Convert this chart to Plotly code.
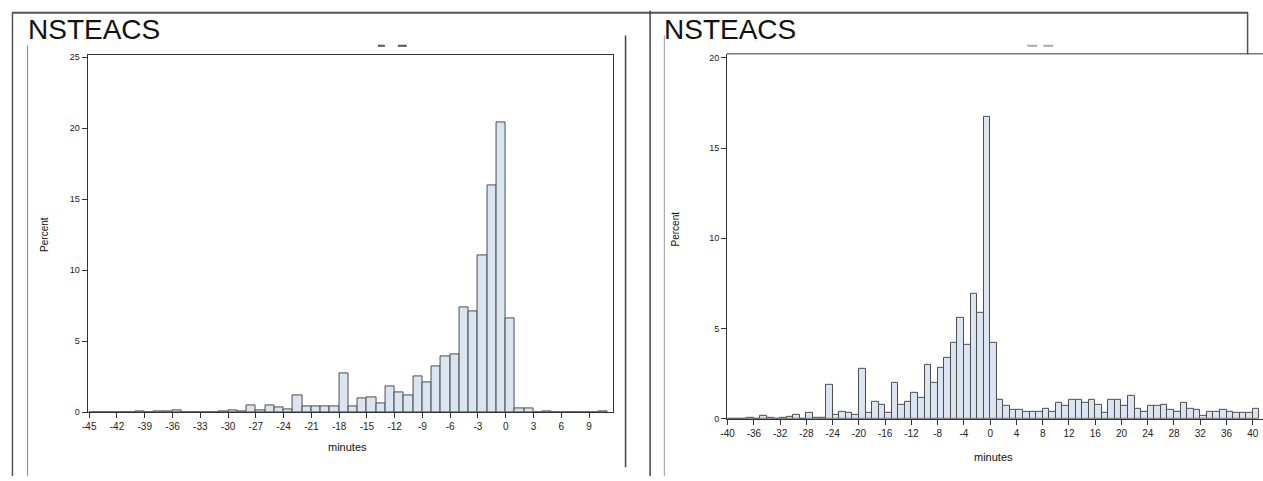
import plotly.graph_objects as go

# ---------------- data ----------------
left_bin_start = list(range(-45, 11))
left_percent = [0, 0, 0, 0, 0, 0.05, 0, 0.05, 0.05, 0.15,
                0, 0, 0, 0, 0.05, 0.12, 0.05, 0.48, 0.15, 0.48,
                0.32, 0.16, 1.2, 0.4, 0.4, 0.4, 0.4, 2.75, 0.4, 0.93,
                1.04, 0.62, 1.83, 1.41, 1.18, 2.52, 2.1, 3.23, 3.93, 4.09,
                7.35, 7.09, 11.02, 15.99, 20.43, 6.61, 0.23, 0.23, 0, 0.05,
                0, 0, 0, 0, 0, 0.05]
left_ticks = list(range(-45, 10, 3))

right_bin_start = list(range(-40, 41))
right_percent = [0, 0, 0, 0.03, 0, 0.15, 0.03, 0, 0.03, 0.12,
                 0.2, 0, 0.33, 0.03, 0.03, 1.87, 0.2, 0.38, 0.33, 0.2,
                 2.75, 0.33, 0.93, 0.74, 0.33, 1.98, 0.76, 0.93, 1.42, 1.13,
                 3.0, 2.0, 2.8, 3.36, 4.21, 5.58, 4.1, 6.94, 5.89, 16.73,
                 4.21, 1.05, 0.71, 0.51, 0.51, 0.38, 0.38, 0.38, 0.56, 0.38,
                 0.89, 0.69, 1.05, 1.05, 0.89, 1.05, 0.76, 0.33, 1.05, 1.05,
                 0.69, 1.25, 0.56, 0.38, 0.69, 0.69, 0.76, 0.51, 0.38, 0.89,
                 0.56, 0.51, 0.15, 0.38, 0.38, 0.51, 0.38, 0.33, 0.33, 0.33,
                 0.56]
right_ticks = list(range(-40, 41, 4))

title_text = "NSTEACS"
x_title = "minutes"
y_title = "Percent"

# ---------------- geometry ----------------
W, H = 1263, 481
def px(x):
    return x / W
def py(y):
    return 1 - y / H

FILL = "#dbe5f1"
EDGE = "#4d4d4d"
AX = "#333333"
FONT = "Liberation Sans, Arial, sans-serif"

fig = go.Figure()
fig.add_trace(go.Bar(x=[k + 0.5 for k in left_bin_start], y=left_percent, width=1,
                     marker=dict(color=FILL, line=dict(color=EDGE, width=1)),
                     xaxis="x", yaxis="y", showlegend=False, hoverinfo="x+y"))
fig.add_trace(go.Bar(x=[k + 0.5 for k in right_bin_start], y=right_percent, width=1,
                     marker=dict(color=FILL, line=dict(color=EDGE, width=1)),
                     xaxis="x2", yaxis="y2", showlegend=False, hoverinfo="x+y"))

tickfont = dict(family=FONT, size=10, color="#222222")
common_x = dict(showgrid=False, zeroline=False, showline=True, linecolor=AX, linewidth=1,
                ticks="outside", ticklen=5, tickcolor=AX, tickfont=tickfont)
common_y = dict(showgrid=False, zeroline=False, showline=True, linecolor=AX, linewidth=1,
                ticks="outside", ticklen=5, tickcolor=AX, tickfont=dict(family=FONT, size=9, color="#222222"))

fig.update_layout(
    width=W, height=H, margin=dict(l=0, r=0, t=0, b=0),
    paper_bgcolor="white", plot_bgcolor="white", bargap=0,
    xaxis=dict(domain=[px(81), px(609.3)], range=[-45.18, 11.58], anchor="y",
               tickvals=left_ticks, ticktext=[str(t) for t in left_ticks], mirror=True, **common_x),
    yaxis=dict(domain=[py(416), py(53.3)], range=[0, 25.12], anchor="x",
               tickvals=[0, 5, 10, 15, 20, 25], mirror=True, **common_y),
    xaxis2=dict(domain=[px(724), 1.0], range=[-40.1, 41.56], anchor="y2",
                tickvals=right_ticks, ticktext=[str(t) for t in right_ticks], **common_x),
    yaxis2=dict(domain=[py(422.7), py(51.7)], range=[0, 20.22], anchor="x2",
                tickvals=[0, 5, 10, 15, 20], **common_y),
)

def line(x0, y0, x1, y1, color="#555555", width=1.5):
    fig.add_shape(type="line", xref="paper", yref="paper",
                  x0=px(x0), y0=py(y0), x1=px(x1), y1=py(y1),
                  line=dict(color=color, width=width))

# frame lines
line(5, 10, 1248, 10, "#555555", 2)
line(5.5, 10, 5.5, 481, "#555555", 1.5)
line(20.7, 43, 20.7, 481, "#888888", 1)
line(622, 33, 622, 472, "#444444", 1.5)
line(646.7, 8, 646.7, 481, "#444444", 1.5)
line(661, 33, 661, 481, "#999999", 1)
line(1247.5, 10, 1247.5, 52, "#555555", 1.5)
# right plot top border (right edge cut off by the page)
line(724, 51.7, 1263, 51.7, AX, 1)
# remnants of cut-off text
line(373, 43.5, 380, 43.5, "#555555", 2)
line(393, 43.5, 402, 43.5, "#555555", 2)
line(1026, 43.5, 1036, 43.5, "#aaaaaa", 2)
line(1042, 43.5, 1052, 43.5, "#aaaaaa", 2)

def ann(text, x, y, size, angle=0, xanchor="center", yanchor="middle"):
    fig.add_annotation(text=text, xref="paper", yref="paper", x=px(x), y=py(y),
                       showarrow=False, textangle=angle, xanchor=xanchor, yanchor=yanchor,
                       font=dict(family=FONT, size=size, color="#111111"))

ann(title_text, 19, 27, 28, xanchor="left")
ann(title_text, 659, 27, 28, xanchor="left")
ann(x_title, 342, 452, 11)
ann(x_title, 992, 462, 11)
ann(y_title, 37, 235, 10, angle=-90)
ann(y_title, 672, 230, 10, angle=-90)

fig.write_html("out.html")
